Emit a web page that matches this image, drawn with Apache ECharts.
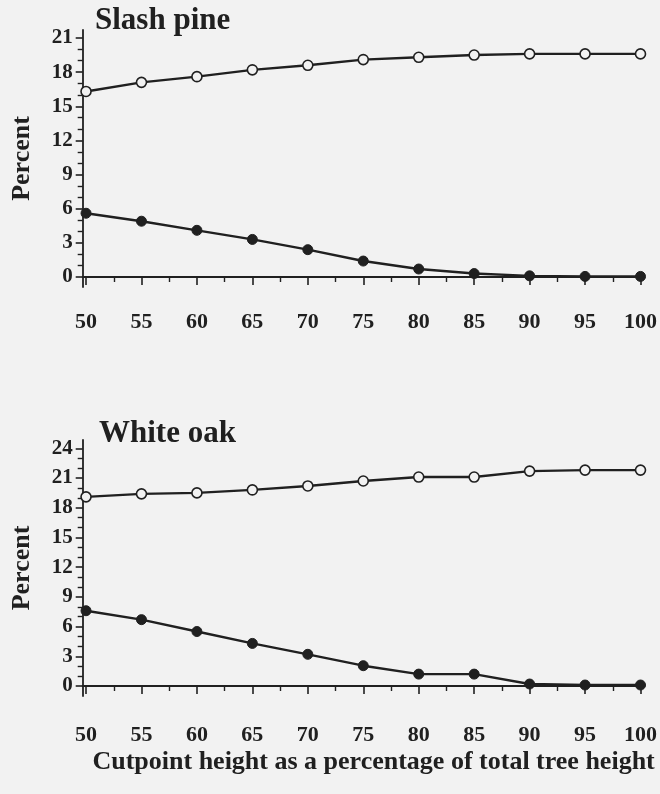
<!DOCTYPE html>
<html>
<head>
<meta charset="utf-8">
<script src="https://cdn.jsdelivr.net/npm/echarts@6/dist/echarts.min.js"></script>
<style>
html,body{margin:0;padding:0;background:#f3f3f3;}
#chart{width:660px;height:794px;}
</style>
</head>
<body>
<div id="chart"></div>
<script>
// ---- data ----
const cutpoints = [50, 55, 60, 65, 70, 75, 80, 85, 90, 95, 100];
const slashPineOpen = [16.3, 17.1, 17.6, 18.2, 18.6, 19.1, 19.3, 19.5, 19.6, 19.6, 19.6];
const slashPineFilled = [5.6, 4.9, 4.1, 3.3, 2.4, 1.4, 0.7, 0.3, 0.1, 0.05, 0.05];
const whiteOakOpen = [19.1, 19.4, 19.5, 19.8, 20.2, 20.7, 21.1, 21.1, 21.7, 21.8, 21.8];
const whiteOakFilled = [7.6, 6.7, 5.5, 4.3, 3.2, 2.05, 1.2, 1.2, 0.2, 0.1, 0.1];
const xMajorTicks = [50, 55, 60, 65, 70, 75, 80, 85, 90, 95, 100];
const xMinorTicks = [52.5, 57.5, 62.5, 67.5, 72.5, 77.5, 82.5, 87.5, 92.5, 97.5];
const ySlashMajor = [0, 3, 6, 9, 12, 15, 18, 21];
const ySlashMinor = [1, 2, 4, 5, 7, 8, 10, 11, 13, 14, 16, 17, 19, 20];
const yOakMajor = [0, 3, 6, 9, 12, 15, 18, 21, 24];
const yOakMinor = [1, 2, 4, 5, 7, 8, 10, 11, 13, 14, 16, 17, 19, 20, 22, 23];
const titles = ['Slash pine', 'White oak'];
const yName = 'Percent';
const xName = 'Cutpoint height as a percentage of total tree height';

const INK = '#202020';
const BG = '#f2f2f2';
const FONT = 'Liberation Serif';

function pairs(ys) { return cutpoints.map((x, i) => [x, ys[i]]); }

function xAxes(gridIndex, margin, withName) {
  const major = {
    type: 'value', gridIndex: gridIndex, min: 49.70, max: 100.36,
    position: 'bottom',
    axisLine: { show: true, lineStyle: { color: INK, width: 1.8 } },
    axisTick: { show: true, length: 8, inside: false, customValues: xMajorTicks, lineStyle: { color: INK, width: 1.6 } },
    axisLabel: { show: true, customValues: xMajorTicks, margin: margin, color: INK,
      fontFamily: FONT, fontWeight: 'bold', fontSize: 22 },
    splitLine: { show: false }
  };
  if (withName) {
    major.name = xName;
    major.nameLocation = 'middle';
    major.nameGap = 53;
    major.nameTextStyle = { color: INK, fontFamily: FONT, fontWeight: 'bold', fontSize: 26, padding: [0, 0, 0, 20] };
  }
  const minor = {
    type: 'value', gridIndex: gridIndex, min: 49.70, max: 100.36,
    position: 'bottom',
    axisLine: { show: false },
    axisTick: { show: true, length: 5, customValues: xMinorTicks, lineStyle: { color: INK, width: 1.4 } },
    axisLabel: { show: false },
    splitLine: { show: false }
  };
  return [major, minor];
}

function yAxes(gridIndex, min, max, majors, minors) {
  const major = {
    type: 'value', gridIndex: gridIndex, min: min, max: max, position: 'left',
    name: yName, nameLocation: 'middle', nameGap: 47, nameRotate: 90,
    nameTextStyle: { color: INK, fontFamily: FONT, fontWeight: 'bold', fontSize: 26 },
    axisLine: { show: true, lineStyle: { color: INK, width: 1.8 } },
    axisTick: { show: true, length: 7, customValues: majors, lineStyle: { color: INK, width: 1.6 } },
    axisLabel: { show: true, customValues: majors, margin: 10, color: INK,
      fontFamily: FONT, fontWeight: 'bold', fontSize: 21 },
    splitLine: { show: false }
  };
  const minor = {
    type: 'value', gridIndex: gridIndex, min: min, max: max, position: 'left',
    axisLine: { show: false },
    axisTick: { show: true, length: 5, customValues: minors, lineStyle: { color: INK, width: 1.4 } },
    axisLabel: { show: false },
    splitLine: { show: false }
  };
  return [major, minor];
}

function lineSeries(xi, yi, ys, open) {
  return {
    type: 'line', xAxisIndex: xi, yAxisIndex: yi, data: pairs(ys),
    symbol: 'circle', symbolSize: 10,
    lineStyle: { color: INK, width: 2.4 },
    itemStyle: open ? { color: BG, borderColor: INK, borderWidth: 1.6 } : { color: INK, borderColor: INK, borderWidth: 1 },
    emphasis: { disabled: true },
    animation: false, z: 3
  };
}

const chart = echarts.init(document.getElementById('chart'), null, { renderer: 'canvas' });
const xs = xAxes(0, 24, false).concat(xAxes(1, 28, true));
const ys = yAxes(0, -0.88, 21.7, ySlashMajor, ySlashMinor).concat(yAxes(1, -1.01, 24.84, yOakMajor, yOakMinor));
chart.setOption({
  backgroundColor: BG,
  animation: false,
  title: [
    { text: titles[0], left: 90, top: 0, textStyle: { color: INK, fontFamily: FONT, fontWeight: 'bold', fontSize: 31, lineHeight: 31 } },
    { text: titles[1], left: 94, top: 413, textStyle: { color: INK, fontFamily: FONT, fontWeight: 'bold', fontSize: 31, lineHeight: 31 } }
  ],
  grid: [
    { left: 82.7, right: 12, top: 30, height: 257 },
    { left: 82.7, right: 12, top: 440, height: 256 }
  ],
  xAxis: xs,
  yAxis: ys,
  series: [
    lineSeries(0, 0, slashPineOpen, true),
    lineSeries(0, 0, slashPineFilled, false),
    lineSeries(2, 2, whiteOakOpen, true),
    lineSeries(2, 2, whiteOakFilled, false)
  ]
});
</script>
</body>
</html>
